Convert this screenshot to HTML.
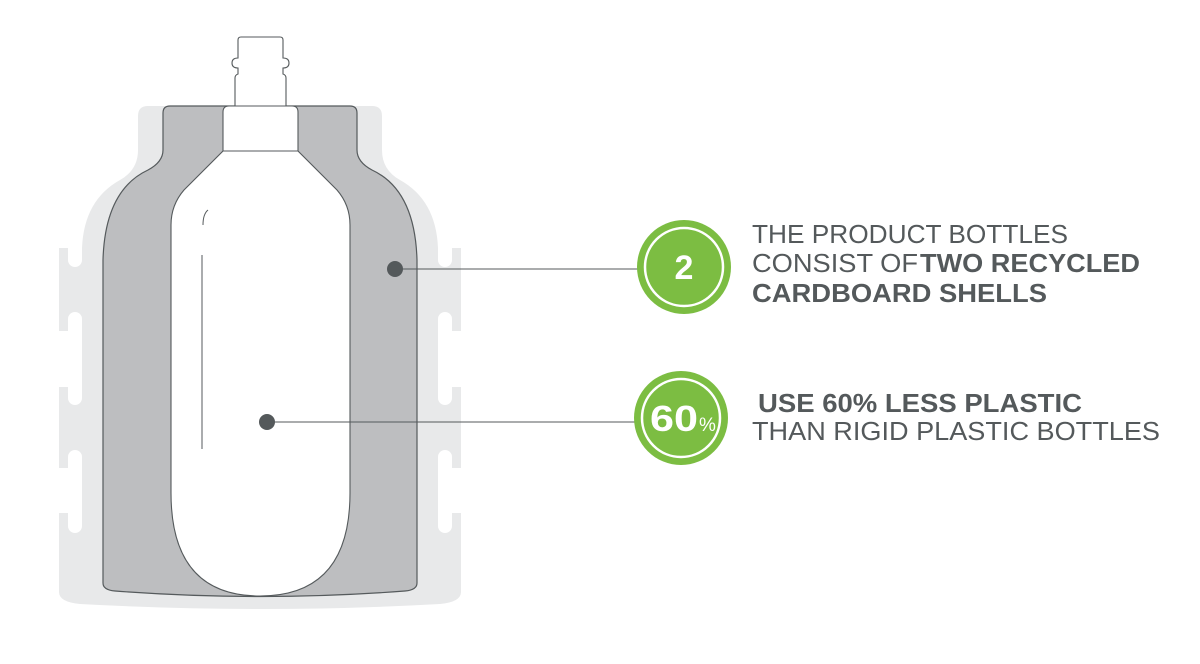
<!DOCTYPE html>
<html><head><meta charset="utf-8"><style>
html,body{margin:0;padding:0;background:#fff;}
svg{display:block;}
text{font-family:"Liberation Sans",Arial,sans-serif;fill:#54595b;}
</style></head><body>
<svg width="1200" height="664" viewBox="0 0 1200 664" xmlns="http://www.w3.org/2000/svg">
<!-- light background shell -->
<path d="M148,106 L372,106 Q382,106 382,116 L382,150 Q382,170 400,180 Q436,200 438,248 L461,248 L461,592 Q461,602 440,604 Q260,614 80,604 Q59,602 59,592 L59,248 L82,248 Q84,200 120,180 Q138,170 138,150 L138,116 Q138,106 148,106 Z" fill="#e8e9ea"/>
<!-- outside white gaps -->
<rect x="58" y="331" width="10" height="56" fill="#fff"/>
<rect x="58" y="468" width="10" height="45" fill="#fff"/>
<rect x="452" y="331" width="10" height="56" fill="#fff"/>
<rect x="452" y="468" width="10" height="45" fill="#fff"/>
<!-- pills left -->
<rect x="68" y="238" width="14" height="29" rx="7" fill="#fff"/>
<rect x="68" y="312" width="14" height="93" rx="7" fill="#fff"/>
<rect x="68" y="450" width="14" height="83" rx="7" fill="#fff"/>
<!-- pills right -->
<rect x="438" y="238" width="14" height="29" rx="7" fill="#fff"/>
<rect x="438" y="312" width="14" height="93" rx="7" fill="#fff"/>
<rect x="438" y="450" width="14" height="83" rx="7" fill="#fff"/>
<!-- gray shell -->
<path d="M170,106 L350,106 Q357,106 357,113 L357,150 Q357,162 372,170 Q415,190 417,260 L417,583 Q417,590 405,591 Q260,602 115,591 Q103,590 103,583 L103,260 Q105,190 148,170 Q163,162 163,150 L163,113 Q163,106 170,106 Z" fill="#bdbec0" stroke="#555a5c" stroke-width="1.2"/>
<!-- cap -->
<path d="M241,37 L280,37 Q283,37 283,40 L283,58 Q289,58 289,63 Q289,68 283,68 L283,74 Q286,75 286,78 L286,106 L235,106 L235,78 Q235,75 238,74 L238,68 Q232,68 232,63 Q232,58 238,58 L238,40 Q238,37 241,37 Z" fill="#fff" stroke="#555a5c" stroke-width="1.1"/>
<!-- inner bottle -->
<path d="M229,106 L292,106 Q298,106 298,112 L298,151 L337,190 Q350,205 350,225 L350,493 Q350,596 260,596 Q171,596 171,493 L171,225 Q171,205 184,190 L223,151 L223,112 Q223,106 229,106 Z" fill="#fff" stroke="#555a5c" stroke-width="1.1"/>
<line x1="223" y1="151" x2="298" y2="151" stroke="#555a5c" stroke-width="1.1"/>
<!-- highlight -->
<path d="M203,225 Q203,214 208,210" fill="none" stroke="#555a5c" stroke-width="1"/>
<line x1="202" y1="255" x2="202" y2="449" stroke="#555a5c" stroke-width="1"/>
<!-- dots and leaders -->
<circle cx="395" cy="269" r="8" fill="#54595b"/>
<line x1="395" y1="269" x2="638" y2="269" stroke="#54595b" stroke-width="1"/>
<circle cx="267" cy="422" r="8" fill="#54595b"/>
<line x1="267" y1="422" x2="635" y2="422" stroke="#54595b" stroke-width="1"/>
<!-- badges -->
<circle cx="684" cy="267" r="47" fill="#7cbd42"/>
<circle cx="684" cy="267" r="39" fill="none" stroke="#fff" stroke-width="2.5"/>
<text x="684" y="279" text-anchor="middle" font-size="34" font-weight="bold" style="fill:#fff">2</text>
<circle cx="681" cy="418" r="47" fill="#7cbd42"/>
<circle cx="681" cy="418" r="39" fill="none" stroke="#fff" stroke-width="2.5"/>
<text x="650" y="431" font-size="36" font-weight="bold" style="fill:#fff" textLength="48" lengthAdjust="spacingAndGlyphs">60</text><text x="699" y="431" font-size="19" style="fill:#fff">%</text>
<!-- texts -->
<text x="752" y="243" font-size="26" textLength="316" lengthAdjust="spacingAndGlyphs">THE PRODUCT BOTTLES</text>
<text x="752" y="272" font-size="26" textLength="166" lengthAdjust="spacingAndGlyphs">CONSIST OF</text>
<text x="920" y="272" font-size="26" font-weight="bold" textLength="220" lengthAdjust="spacingAndGlyphs">TWO RECYCLED</text>
<text x="752" y="302" font-size="26" font-weight="bold" textLength="295" lengthAdjust="spacingAndGlyphs">CARDBOARD SHELLS</text>
<text x="758" y="412" font-size="26" font-weight="bold" textLength="324" lengthAdjust="spacingAndGlyphs">USE 60% LESS PLASTIC</text>
<text x="752" y="440" font-size="26" textLength="408" lengthAdjust="spacingAndGlyphs">THAN RIGID PLASTIC BOTTLES</text>
</svg>
</body></html>
